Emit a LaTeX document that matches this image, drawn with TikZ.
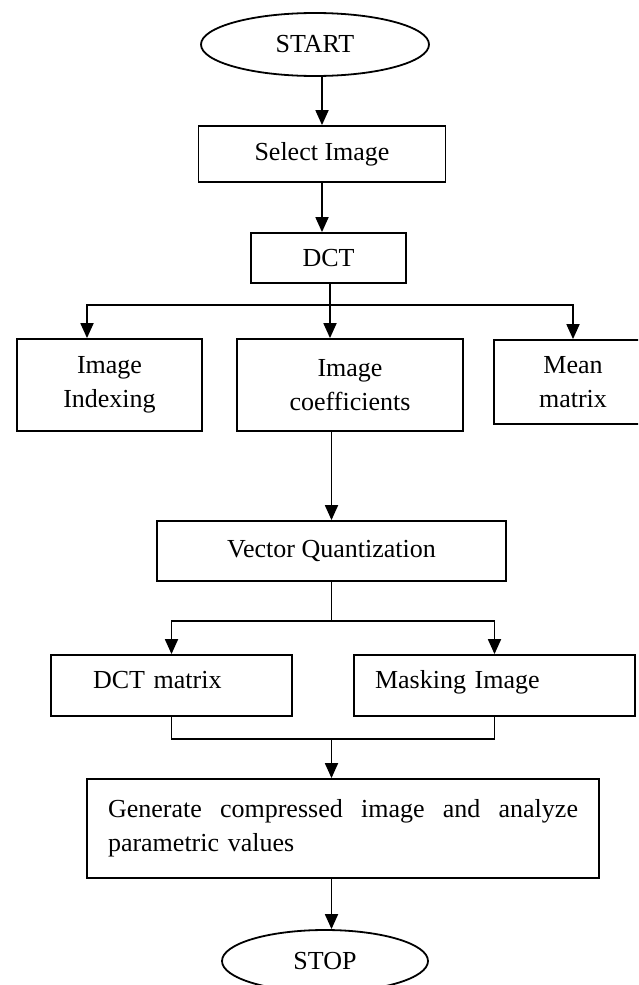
\documentclass[tikz,border=0pt]{standalone}
\usepackage{fontspec}
\setmainfont{Liberation Serif}
\usetikzlibrary{shapes.geometric,arrows.meta}
\begin{document}
\begin{tikzpicture}[x=1pt,y=-1pt,
  box/.style={draw,line width=1.8pt,rectangle,align=center,font=\fontsize{26pt}{34pt}\selectfont},
  term/.style={draw,line width=1.8pt,ellipse,inner sep=0pt,font=\fontsize{26pt}{34pt}\selectfont},
  flow/.style={line width=1.8pt,-{Triangle[length=15pt,width=13pt]}},
  link/.style={line width=1.8pt}]
\path[use as bounding box,clip] (0,0) rectangle (638,985);
\node[term,minimum width=228pt,minimum height=63pt] (start) at (315,44.5) {START};
\node[box,minimum width=247pt,minimum height=56pt] (select) at (322,154) {Select Image};
\node[box,minimum width=155pt,minimum height=50pt] (dct) at (328.5,258) {DCT};
\node[box,minimum width=185pt,minimum height=92pt] (index) at (109.5,385) {Image\\Indexing};
\node[box,minimum width=226pt,minimum height=92pt] (coeff) at (350,385) {Image\\coefficients};
\node[box,minimum width=158pt,minimum height=84pt] (mean) at (573,382) {Mean\\matrix};
\node[box,minimum width=349pt,minimum height=60pt] (vq) at (331.5,551) {Vector Quantization};
\node[box,align=left,text width=157pt,inner xsep=42pt,text height=18pt,text depth=12pt,minimum height=61pt] (dctm) at (171.5,685.5) {DCT matrix};
\node[box,align=left,text width=239pt,inner xsep=21pt,text height=18pt,text depth=12pt,minimum height=61pt] (mask) at (494.5,685.5) {Masking Image};
\node[box,align=left,text width=470pt,inner xsep=21pt,minimum height=99pt] (gen) at (343,828.5)
  {Generate\hfill compressed\hfill image\hfill and\hfill analyze\\parametric values};
\node[term,minimum width=206pt,minimum height=62pt] (stop) at (325,961) {STOP};
\coordinate (split) at (330,305);
\coordinate (split2) at (331.5,621);
\coordinate (join) at (331.5,739);
% connectors
\draw[flow] (start.south -| select) -- (select);
\draw[flow] (select) -- (select |- dct.north);
\draw[link] (dct.south -| split) -- (split);
\draw[flow] (split) -| ([xshift=-22.5pt]index.north);
\draw[flow] (split) -- (split |- coeff.north);
\draw[flow] (split) -| (mean);
\draw[flow] (coeff.south -| vq) -- (vq);
\draw[link] (vq) -- (split2);
\draw[flow] (split2) -| (dctm);
\draw[flow] (split2) -| (mask);
\draw[link] (dctm) |- (join) -| (mask);
\draw[flow] (join) -- (join |- gen.north);
\draw[flow] (gen.south -| join) -- (join |- stop.north);
\end{tikzpicture}
\end{document}
